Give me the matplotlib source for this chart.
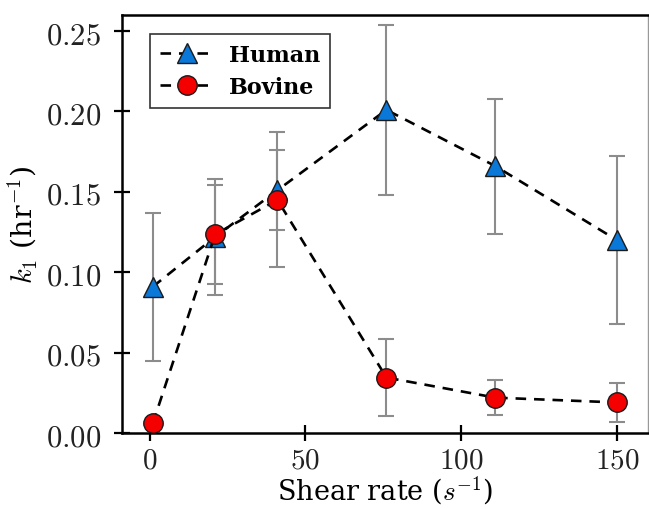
import numpy as np
import matplotlib
matplotlib.use("Agg")
import matplotlib.pyplot as plt

plt.rcParams['font.family'] = ['DejaVu Serif']
plt.rcParams['mathtext.fontset'] = 'cm'

# shear rate (1/s)
shear = [1, 21, 41, 76, 111, 150]

# first-order rate constant k1 (1/hr) with error
human = [0.091, 0.122, 0.151, 0.201, 0.166, 0.120]
human_err = [0.046, 0.036, 0.025, 0.053, 0.042, 0.052]
bovine = [0.006, 0.1235, 0.145, 0.0345, 0.022, 0.019]
bovine_err = [0.0, 0.031, 0.042, 0.024, 0.011, 0.012]

xticks = [0, 50, 100, 150]
yticks = [0.00, 0.05, 0.10, 0.15, 0.20, 0.25]

fig = plt.figure(figsize=(6.49, 5.10), dpi=100)
ax = fig.add_axes([0.1875, 0.149, 0.811, 0.8196])

ax.errorbar(shear, human, yerr=human_err, fmt='none', ecolor='#8c8c8c',
            elinewidth=1.5, capsize=6, capthick=1.5, zorder=1)
ax.errorbar(shear, bovine, yerr=bovine_err, fmt='none', ecolor='#8c8c8c',
            elinewidth=1.5, capsize=6, capthick=1.5, zorder=1)

ax.plot(shear, human, '--', color='black', lw=1.9, dashes=(4, 3),
        marker='^', ms=14, mfc='#0a78d8', mec='#1a1a1a', mew=1.0,
        label='Human', zorder=3)
ax.plot(shear, bovine, '--', color='black', lw=1.9, dashes=(4, 3),
        marker='o', ms=14, mfc='#f40000', mec='#1a1a1a', mew=1.0,
        label='Bovine', zorder=4)

ax.set_xlim(-9, 160)
ax.set_ylim(0, 0.26)
ax.set_xticks(xticks)
ax.set_xticklabels([f"${v}$" for v in xticks])
ax.set_yticks(yticks)
ax.set_yticklabels([f"${v:.2f}$" for v in yticks])
ax.tick_params(direction='inout', length=12, width=1.6, labelsize=22,
               labelcolor='#222222')
ax.tick_params(axis='x', pad=3, labelsize=21)
ax.tick_params(axis='y', pad=9)

for side in ['left', 'bottom', 'top']:
    ax.spines[side].set_linewidth(1.8)
ax.spines['right'].set_linewidth(1.0)
ax.spines['right'].set_color('#999999')

ax.set_xlabel(r"Shear rate ($\it{s}^{\rm{-1}}$)", fontsize=19.5, labelpad=0)
ax.set_ylabel(r"$k_{\it{1}}$ (hr$^{\rm{-1}}$)", fontsize=20.5, labelpad=4)

leg = ax.legend(loc='upper left', bbox_to_anchor=(0.032, 0.982), fontsize=16,
                frameon=True, fancybox=False, edgecolor='black',
                handlelength=2.5, borderpad=0.45, labelspacing=0.45,
                handletextpad=0.6)
leg.get_frame().set_linewidth(1.2)
for t in leg.get_texts():
    t.set_fontweight('bold')

fig.savefig("out.png", dpi=100)
